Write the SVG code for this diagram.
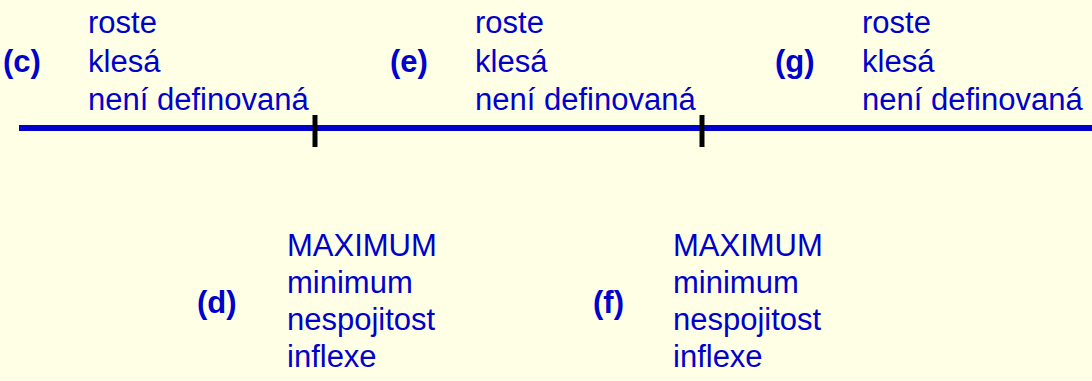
<svg xmlns="http://www.w3.org/2000/svg" width="1092" height="381" viewBox="0 0 1092 381">
<style>
text{font-family:"Liberation Sans",Arial,sans-serif;font-size:31px;fill:#0000CC}
.b{font-weight:bold}
.tick{stroke:#000;stroke-width:5}
</style>
<rect width="1092" height="381" fill="#FFFFE5"/>
<g id="connectors">
<line x1="19" y1="128" x2="1092" y2="128" stroke="#0000CC" stroke-width="6"/>
<line class="tick" x1="315" y1="115" x2="315" y2="147"/>
<line class="tick" x1="702" y1="115" x2="702" y2="147"/>
</g>
<g id="c"><text class="b" x="3" y="72">(c)</text>
<text x="88" y="33">roste</text><text x="88" y="72">klesá</text><text x="88" y="110">není definovaná</text></g>
<g id="e"><text class="b" x="390" y="72">(e)</text>
<text x="475" y="33">roste</text><text x="475" y="72">klesá</text><text x="475" y="110">není definovaná</text></g>
<g id="g"><text class="b" x="775" y="72">(g)</text>
<text x="862" y="33">roste</text><text x="862" y="72">klesá</text><text x="862" y="110">není definovaná</text></g>
<g id="d"><text class="b" x="197" y="313">(d)</text>
<text x="287" y="256">MAXIMUM</text><text x="287" y="293">minimum</text><text x="287" y="330">nespojitost</text><text x="287" y="367">inflexe</text></g>
<g id="f"><text class="b" x="593" y="313">(f)</text>
<text x="673" y="256">MAXIMUM</text><text x="673" y="293">minimum</text><text x="673" y="330">nespojitost</text><text x="673" y="367">inflexe</text></g>
</svg>
